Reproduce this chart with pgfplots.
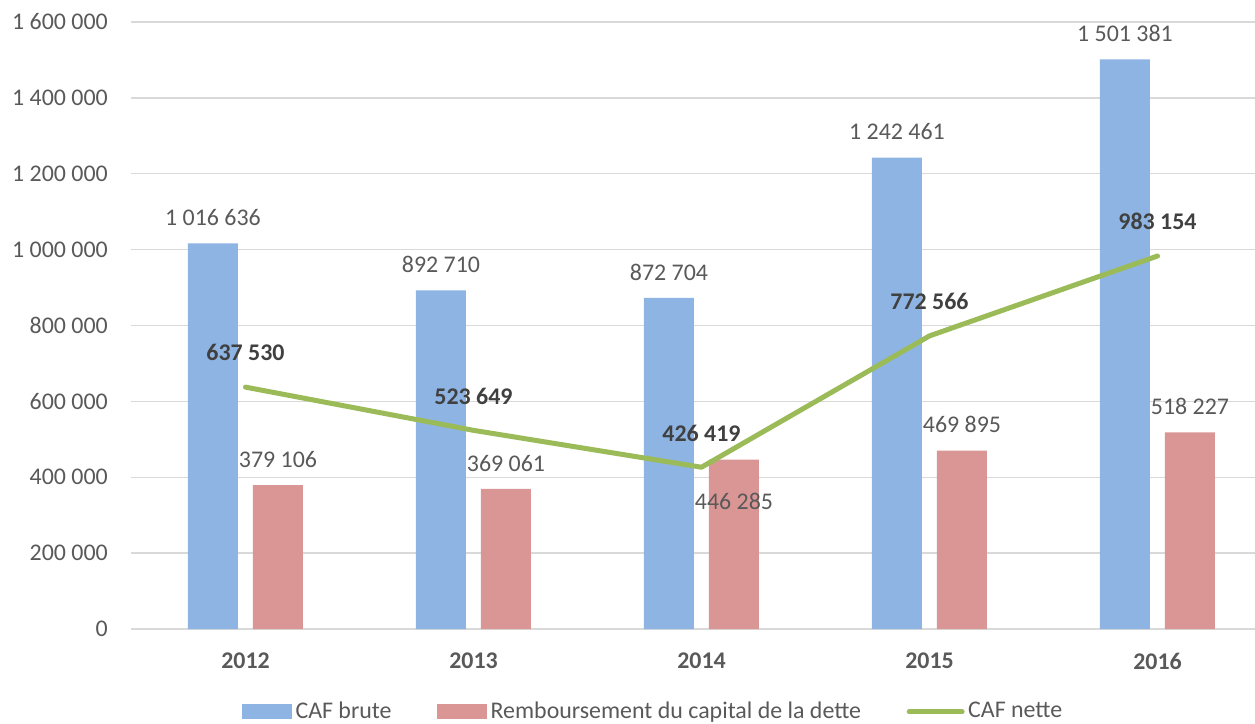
\documentclass[border=0pt]{standalone}
\usepackage{pgfplots}
\pgfplotsset{compat=1.18}
\usepackage{fontspec}
\setmainfont{Carlito}
\definecolor{cafblue}{HTML}{8EB4E3}
\definecolor{cafred}{HTML}{D99694}
\definecolor{cafgreen}{HTML}{9BBB59}
\definecolor{labgray}{HTML}{595959}
\definecolor{boldgray}{HTML}{404040}
\definecolor{gridgray}{HTML}{D9D9D9}
\newcommand{\lf}{\fontsize{24}{29}\selectfont}
\begin{document}
\lf
\begin{tikzpicture}
\begin{axis}[
  width=1123.5bp, height=607bp, scale only axis,
  xmin=-0.5, xmax=4.4276, ymin=0, ymax=1600000,
  scaled y ticks=false,
  xtick={0,1,2,3,4}, xticklabels={2012,2013,2014,2015,2016},
  ytick={0,200000,400000,600000,800000,1000000,1200000,1400000,1600000},
  yticklabels={0,200 000,400 000,600 000,800 000,1 000 000,1 200 000,1 400 000,1 600 000},
  ymajorgrids, major grid style={draw=gridgray, line width=1.5bp},
  axis line style={draw=none}, tick style={draw=none},
  xticklabel style={font=\lf\bfseries, text=labgray, anchor=north, inner sep=0pt, yshift=-23.5bp},
  yticklabel style={font=\lf, text=labgray, anchor=east, inner sep=0pt, xshift=-23.5bp},
  legend style={at={(0.465,-0.1367)}, anchor=center, draw=none, fill=none,
    legend columns=3, font=\lf, text=labgray,
    /tikz/every even column/.append style={column sep=42bp},
    nodes={inner xsep=3.5bp, inner ysep=2bp}},
  legend cell align=left,
]
\addplot[ybar, bar width=50bp, bar shift=-32.5bp, fill=cafblue, draw=none,
  point meta=explicit symbolic, nodes near coords,
  every node near coord/.append style={anchor=south, inner sep=0pt, xshift=-32.5bp, yshift=17.5bp, text=labgray, font=\lf},
  legend image code/.code={\fill[cafblue] (0bp,-7.5bp) rectangle (50bp,7.5bp);}]
  coordinates {(0,1016636)[1 016 636] (1,892710)[892 710] (2,872704)[872 704] (3,1242461)[1 242 461] (4,1501381)[1 501 381]};
\addplot[ybar, bar width=50bp, bar shift=32.5bp, fill=cafred, draw=none,
  point meta=explicit symbolic, nodes near coords,
  every node near coord/.append style={anchor=south, inner sep=0pt, xshift=32.5bp, yshift=17.5bp, text=labgray, font=\lf},
  legend image code/.code={\fill[cafred] (0bp,-7.5bp) rectangle (50bp,7.5bp);}]
  coordinates {(0,379106)[379 106] (1,369061)[369 061] (2,446285)[{}] (3,469895)[469 895] (4,518227)[518 227]};
\addplot[draw=none, mark=none, forget plot,
  point meta=explicit symbolic, nodes near coords,
  every node near coord/.append style={anchor=north, inner sep=0pt, xshift=32.5bp, yshift=-33.5bp, text=labgray, font=\lf}]
  coordinates {(2,446285)[446 285]};
\addplot[draw=cafgreen, line width=5bp, mark=none, line cap=round, line join=round,
  point meta=explicit symbolic, nodes near coords,
  every node near coord/.append style={anchor=south, inner sep=0pt, yshift=23.5bp, text=boldgray, font=\lf\bfseries},
  legend image code/.code={\draw[cafgreen, line width=5bp] (0bp,0bp) -- (53bp,0bp);}]
  coordinates {(0,637530)[637 530] (1,523649)[523 649] (2,426419)[426 419] (3,772566)[772 566] (4,983154)[983 154]};
\legend{CAF brute, Remboursement du capital de la dette, CAF nette}
\end{axis}
\pgfresetboundingbox
\path[use as bounding box] (-131.5bp,-95bp) rectangle (1123.5bp,629bp);
\end{tikzpicture}
\end{document}
